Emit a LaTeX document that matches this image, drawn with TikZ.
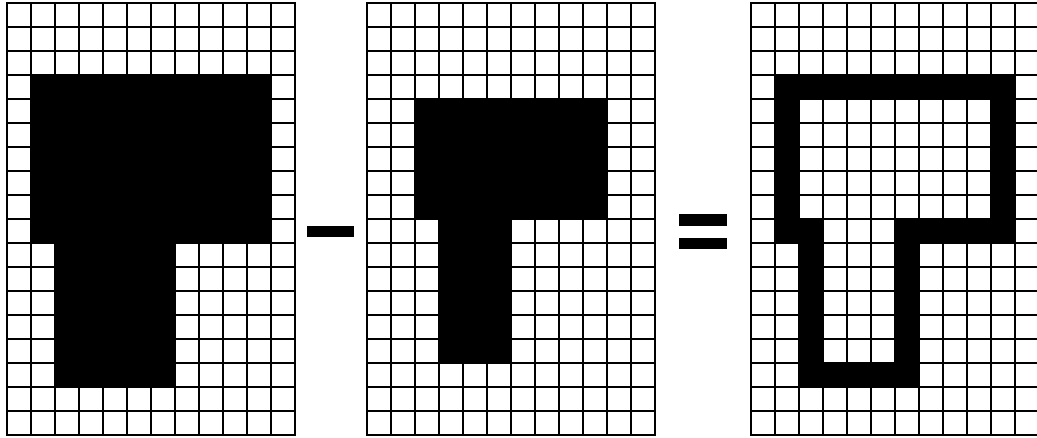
\documentclass[tikz,border=0pt]{standalone}
\begin{document}
\begin{tikzpicture}[x=0.75pt,y=-0.75pt,
  gridline/.style={line width=0.9pt, draw=black},
  frameline/.style={line width=1.2pt, draw=black},
  ink/.style={fill=black},
  pixgrid/.pic={
    \foreach \i in {1,...,11} \draw[gridline] (24*\i,0) -- (24*\i,432);
    \foreach \j in {1,...,17} \draw[gridline] (0,24*\j) -- (288,24*\j);
    \draw[frameline] (0,0) rectangle (288,432);
  }]
\useasboundingbox[fill=white] (0,0) rectangle (1037,438);
% ---------- grid 1 : shape A ----------
\begin{scope}[shift={(7,3)}]
  \pic {pixgrid};
  \fill[ink] (24,72) -- (264,72) -- (264,240) -- (168,240) -- (168,384)
             -- (48,384) -- (48,240) -- (24,240) -- cycle;
\end{scope}
% ---------- minus ----------
\fill[ink] (307,226) rectangle (354,237);
% ---------- grid 2 : shape B ----------
\begin{scope}[shift={(367,3)}]
  \pic {pixgrid};
  \fill[ink] (48,96) -- (240,96) -- (240,216) -- (144,216) -- (144,360)
             -- (72,360) -- (72,216) -- (48,216) -- cycle;
\end{scope}
% ---------- equals ----------
\fill[ink] (679,214) rectangle (727,226);
\fill[ink] (679,238) rectangle (727,249);
% ---------- grid 3 : A minus B ----------
\begin{scope}[shift={(751,3)}]
  \pic {pixgrid};
  \fill[ink, even odd rule]
    (24,72) -- (264,72) -- (264,240) -- (168,240) -- (168,384)
      -- (48,384) -- (48,240) -- (24,240) -- cycle
    (48,96) -- (240,96) -- (240,216) -- (144,216) -- (144,360)
      -- (72,360) -- (72,216) -- (48,216) -- cycle;
\end{scope}
\end{tikzpicture}
\end{document}
